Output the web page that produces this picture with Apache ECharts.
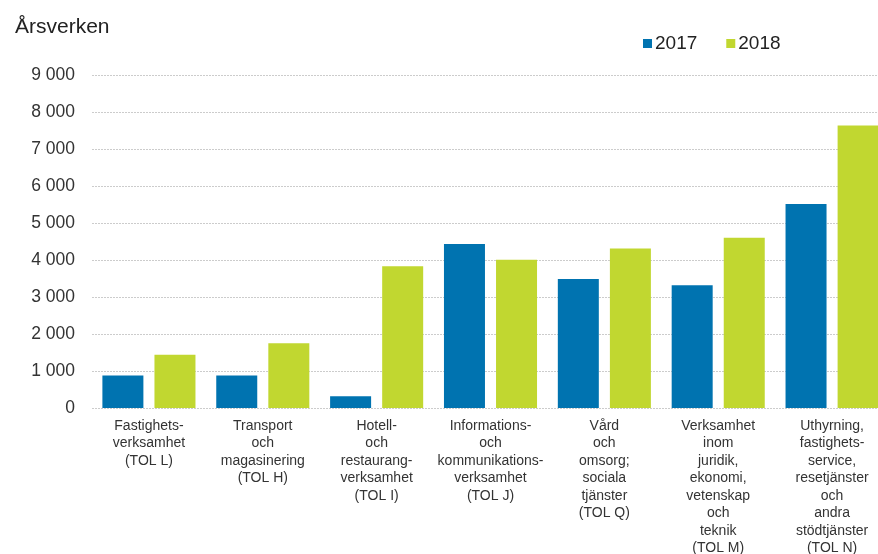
<!DOCTYPE html>
<html>
<head>
<meta charset="utf-8">
<script src="https://cdn.jsdelivr.net/npm/echarts@6/dist/echarts.min.js"></script>
<style>
html,body{margin:0;padding:0;background:#fff;}
#c{width:878px;height:554px;}
</style>
</head>
<body>
<div id="c"></div>
<script>
const categories = [
  "Fastighets-\nverksamhet\n(TOL L)",
  "Transport\noch\nmagasinering\n(TOL H)",
  "Hotell-\noch\nrestaurang-\nverksamhet\n(TOL I)",
  "Informations-\noch\nkommunikations-\nverksamhet\n(TOL J)",
  "Vård\noch\nomsorg;\nsociala\ntjänster\n(TOL Q)",
  "Verksamhet\ninom\njuridik,\nekonomi,\nvetenskap\noch\nteknik\n(TOL M)",
  "Uthyrning,\nfastighets-\nservice,\nresetjänster\noch\nandra\nstödtjänster\n(TOL N)"
];
const seriesNames = ["2017", "2018"];
const values2017 = [880, 880, 320, 4440, 3490, 3320, 5520];
const values2018 = [1440, 1750, 3840, 4010, 4320, 4610, 7650];
const yMin = 0, yMax = 9000, yStep = 1000;
const yTitle = "Årsverken";

const chart = echarts.init(document.getElementById('c'), null, {renderer: 'canvas'});
const font = 'Liberation Sans, Arial, sans-serif';
chart.setOption({
  animation: false,
  backgroundColor: '#ffffff',
  title: {
    text: yTitle, left: 10, top: 12,
    textStyle: {fontFamily: font, fontSize: 21, fontWeight: 'normal', color: '#222'}
  },
  legend: {
    data: seriesNames, left: 643, top: 34, padding: 0,
    icon: 'rect', itemWidth: 9, itemHeight: 9, itemGap: 29,
    textStyle: {fontFamily: font, fontSize: 19, color: '#222', padding: [0,0,0,-2]}
  },
  grid: {left: 92, width: 797, top: 75.5, bottom: 146, containLabel: false, outerBoundsMode: 'none'},
  xAxis: {
    type: 'category', data: categories,
    axisLine: {show: false}, axisTick: {show: false},
    axisLabel: {interval: 0, margin: 9, fontFamily: font, fontSize: 14, lineHeight: 17.5, color: '#333'}
  },
  yAxis: {
    type: 'value', min: yMin, max: yMax, interval: yStep,
    axisLine: {show: false}, axisTick: {show: false},
    axisLabel: {margin: 17, fontFamily: font, fontSize: 17.5, color: '#333',
      formatter: v => String(v).replace(/\B(?=(\d{3})+(?!\d))/g, ' ')},
    splitLine: {lineStyle: {color: '#cccccc', width: 1, type: [2, 1]}}
  },
  series: [
    {name: seriesNames[0], type: 'bar', data: values2017, barWidth: 41, barGap: '27%',
     itemStyle: {color: '#0073B0'}},
    {name: seriesNames[1], type: 'bar', data: values2018, barWidth: 41, barGap: '27%',
     itemStyle: {color: '#C1D730'}}
  ]
});
</script>
</body>
</html>
